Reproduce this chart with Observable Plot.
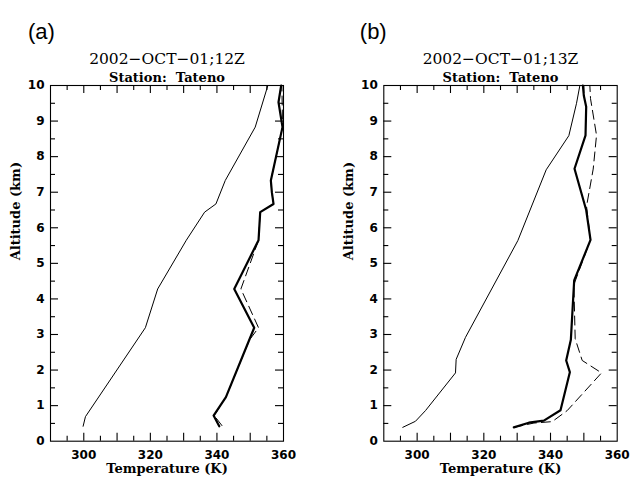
<!DOCTYPE html>
<html>
<head>
<meta charset="utf-8">
<script src="https://cdn.jsdelivr.net/npm/d3@7"></script>
<script src="https://cdn.jsdelivr.net/npm/@observablehq/plot@0.6"></script>
<style>
  html, body { margin: 0; padding: 0; background: #fff; }
  #wrap { display: flex; width: 630px; height: 481px; }
  #wrap svg { display: block; }
</style>
</head>
<body>
<div id="wrap"></div>
<script>
// ---- Panel (a) 2002-OCT-01;12Z ----
const aThinAlt  = [0.42, 0.69, 3.19, 4.28, 5.65, 6.44, 6.67, 7.33, 8.83, 10];
const aThinT    = [299.8, 300.5, 318.5, 322.2, 330.8, 336.3, 339.7, 342.5, 351.5, 355.3];
const aThickAlt = [0.42, 0.72, 1.24, 3.19, 4.28, 5.65, 6.44, 6.67, 7.0, 7.33, 8.83, 9.53, 10];
const aThickT   = [340.7, 339.0, 342.7, 351.2, 345.2, 352.5, 353.0, 357.0, 356.5, 356.2, 359.7, 358.5, 359.3];
const aDashAlt  = [0.44, 0.72, 1.24, 2.85, 3.19, 4.28, 5.65, 6.44, 6.67, 7.0, 7.33, 8.83, 9.53, 10];
const aDashT    = [341.5, 339.2, 342.7, 349.8, 352.5, 347.2, 352.5, 353.0, 357.0, 356.5, 356.2, 359.7, 359.6, 359.5];

// ---- Panel (b) 2002-OCT-01;13Z ----
const bThinAlt  = [0.39, 0.56, 0.86, 1.92, 2.3, 2.92, 5.64, 7.63, 8.59, 9.5, 10];
const bThinT    = [295.7, 299.5, 302.5, 311.5, 311.7, 314.5, 330.2, 338.7, 345.5, 347.8, 348.8];
const bThickAlt = [0.39, 0.52, 0.58, 0.87, 1.94, 2.27, 2.85, 4.52, 5.66, 6.5, 7.66, 8.6, 9.4, 9.71, 10];
const bThickT   = [329.0, 333.5, 338.0, 343.0, 345.8, 344.7, 346.1, 347.1, 352.0, 350.7, 347.2, 350.5, 350.7, 350.0, 349.7];
const bDashAlt  = [0.39, 0.51, 0.55, 0.86, 1.92, 2.27, 2.88, 4.4, 5.66, 6.6, 7.65, 8.6, 9.63, 10];
const bDashT    = [329.0, 335.0, 340.5, 345.0, 355.3, 349.5, 347.4, 347.0, 352.0, 350.8, 352.8, 353.8, 352.0, 351.8];

// ---- Axes / text ----
const xDomain = [290, 360];
const yDomain = [0, 10];
const xMinor = [295, 305, 315, 325, 335, 345, 355];
const xMajor = [300, 310, 320, 330, 340, 350];
const xLabels = [300, 320, 340, 360];
const yMinor = [0.5, 1.5, 2.5, 3.5, 4.5, 5.5, 6.5, 7.5, 8.5, 9.5];
const yMajor = [1, 2, 3, 4, 5, 6, 7, 8, 9];
const yLabels = [0, 1, 2, 3, 4, 5, 6, 7, 8, 9, 10];
const panelTags = ["(a)", "(b)"];
const panelTitles = ["2002\u2212OCT\u221201;12Z", "2002\u2212OCT\u221201;13Z"];
const stationText = "Station:  Tateno";
const xTitle = "Temperature (K)";
const yTitle = "Altitude (km)";

const zip = (alt, t) => alt.map((a, i) => ({alt: a, t: t[i]}));

function panel(idx, thin, thick, dash, mLeft, mRight) {
  const serif = "DejaVu Serif";
  const W = 315, H = 481, mTop = 85, mBottom = 40.3;
  const fw = W - mLeft - mRight, fh = H - mTop - mBottom;
  const MAJ = 8, MIN = 5;
  // tick lengths converted to data units
  const kmPerPx = (yDomain[1] - yDomain[0]) / fh;
  const kPerPx = (xDomain[1] - xDomain[0]) / fw;
  const y0 = yDomain[0], y1 = yDomain[1], x0 = xDomain[0], x1 = xDomain[1];
  const xTickRows = [
    ...xMajor.map(v => ({v, a: y0, b: y0 + MAJ * kmPerPx})),
    ...xMinor.map(v => ({v, a: y0, b: y0 + MIN * kmPerPx})),
    ...xMajor.map(v => ({v, a: y1 - MAJ * kmPerPx, b: y1})),
    ...xMinor.map(v => ({v, a: y1 - MIN * kmPerPx, b: y1}))
  ];
  const yTickRows = [
    ...yMajor.map(v => ({v, a: x0, b: x0 + MAJ * kPerPx})),
    ...yMinor.map(v => ({v, a: x0, b: x0 + MIN * kPerPx})),
    ...yMajor.map(v => ({v, a: x1 - MAJ * kPerPx, b: x1})),
    ...yMinor.map(v => ({v, a: x1 - MIN * kPerPx, b: x1}))
  ];
  const lab = {fontSize: 12, fontWeight: "bold", fontFamily: "DejaVu Sans", fill: "black"};
  return Plot.plot({
    width: W,
    height: H,
    marginLeft: mLeft,
    marginRight: mRight,
    marginTop: mTop,
    marginBottom: mBottom,
    x: {domain: xDomain, axis: null},
    y: {domain: yDomain, axis: null},
    style: {fontFamily: serif, background: "white", color: "black"},
    marks: [
      Plot.frame({stroke: "black", strokeWidth: 1.1}),
      // inward ticks
      Plot.ruleX(xTickRows, {x: "v", y1: "a", y2: "b", stroke: "black", strokeWidth: 1.1}),
      Plot.ruleY(yTickRows, {y: "v", x1: "a", x2: "b", stroke: "black", strokeWidth: 1.1}),
      // data
      Plot.line(thin, {x: "t", y: "alt", stroke: "black", strokeWidth: 1}),
      Plot.line(dash, {x: "t", y: "alt", stroke: "black", strokeWidth: 1, strokeDasharray: "9,5"}),
      Plot.line(thick, {x: "t", y: "alt", stroke: "black", strokeWidth: 2.2}),
      // tick labels
      Plot.text(xLabels, {x: d => d, frameAnchor: "bottom", lineAnchor: "top", dy: 9, text: d => String(d), ...lab}),
      Plot.text(yLabels, {y: d => d, frameAnchor: "left", textAnchor: "end", dx: -6, text: d => String(d), ...lab}),
      // texts
      Plot.text([panelTags[idx]], {frameAnchor: "top-left", textAnchor: "start", dx: idx === 0 ? -22.5 : -24, dy: -62,
        fontSize: 22, fontFamily: "Liberation Sans", fill: "black"}),
      Plot.text([panelTitles[idx]], {frameAnchor: "top", dy: -33, fontSize: 15.5, fontFamily: serif, fill: "black"}),
      Plot.text([stationText], {frameAnchor: "top", dy: -13, fontSize: 13, fontWeight: "bold", fontFamily: serif, fill: "black"}),
      Plot.text([xTitle], {frameAnchor: "bottom", dy: 31.5, fontSize: 13, fontWeight: "bold", fontFamily: serif, fill: "black"}),
      Plot.text([yTitle], {frameAnchor: "left", dx: -34.5, dy: -3, rotate: -90, fontSize: 13, fontWeight: "bold", fontFamily: serif, fill: "black"})
    ]
  });
}

const wrap = document.getElementById("wrap");
wrap.appendChild(panel(0, zip(aThinAlt, aThinT), zip(aThickAlt, aThickT), zip(aDashAlt, aDashT), 50, 32));
wrap.appendChild(panel(1, zip(bThinAlt, bThinT), zip(bThickAlt, bThickT), zip(bDashAlt, bDashT), 68.3, 13.3));
</script>
</body>
</html>
